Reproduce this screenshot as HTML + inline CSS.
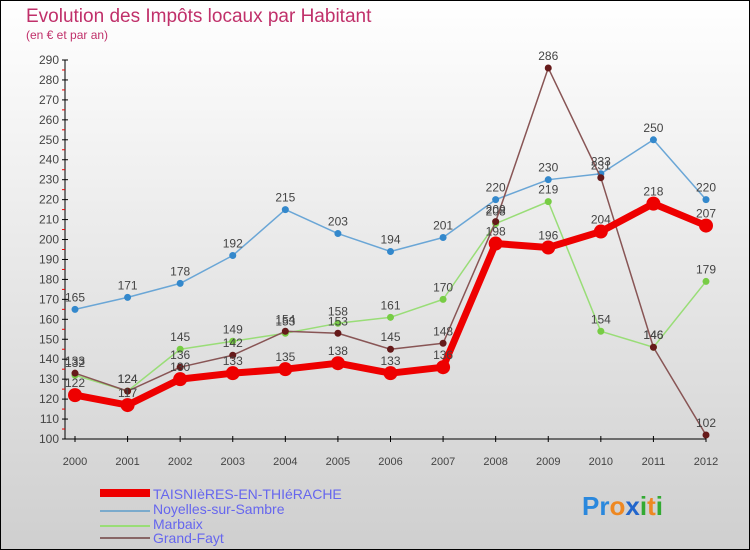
<!DOCTYPE html>
<html><head><meta charset="utf-8"><style>
body{margin:0}
#c{width:750px;height:550px;position:relative;overflow:hidden;font-family:"Liberation Sans",sans-serif}
</style></head><body>
<div id="c">
<svg id="s" width="750" height="550" xmlns="http://www.w3.org/2000/svg">
<defs><linearGradient id="bg" x1="0" y1="0" x2="0" y2="1"><stop offset="0" stop-color="#ffffff"/><stop offset="1" stop-color="#cfcfcf"/></linearGradient></defs>
<rect x="0.5" y="0.5" width="749" height="549" fill="url(#bg)" stroke="#000"/>
<text x="26" y="22" font-size="19" fill="#c0306a">Evolution des Impôts locaux par Habitant</text>
<text x="26" y="39" font-size="12" fill="#c0306a">(en € et par an)</text>
<g id="axes"></g><g id="series"></g>
<g>
<rect x="100" y="489" width="50" height="8" fill="#e00"/>
<text x="153" y="499" font-size="14" fill="#6666ee">TAISNIèRES-EN-THIéRACHE</text>
<line x1="100" y1="511" x2="150" y2="511" stroke="#7aaacc" stroke-width="2"/>
<text x="153" y="514" font-size="14" fill="#6666ee">Noyelles-sur-Sambre</text>
<line x1="100" y1="526" x2="150" y2="526" stroke="#99dd77" stroke-width="2"/>
<text x="153" y="529" font-size="14" fill="#6666ee">Marbaix</text>
<line x1="100" y1="538" x2="150" y2="538" stroke="#886666" stroke-width="2"/>
<text x="153" y="543" font-size="14" fill="#6666ee">Grand-Fayt</text>
</g>
<text x="582" y="515" font-size="26" font-weight="bold"><tspan fill="#2a88dd">Pr</tspan><tspan fill="#ee8822">o</tspan><tspan fill="#2266cc">x</tspan><tspan fill="#33aa33">i</tspan><tspan fill="#ee8822">t</tspan><tspan fill="#33aa33">i</tspan></text>
</svg></div>
<script>
const years=[2000,2001,2002,2003,2004,2005,2006,2007,2008,2009,2010,2011,2012];
const yTicks=[100,110,120,130,140,150,160,170,180,190,200,210,220,230,240,250,260,270,280,290];
const taisnieres=[122,117,130,133,135,138,133,136,198,196,204,218,207];
const noyelles=[165,171,178,192,215,203,194,201,220,230,233,250,220];
const marbaix=[132,124,145,149,153,158,161,170,208,219,154,146,179];
const grandFayt=[133,124,136,142,154,153,145,148,209,286,231,146,102];
const NS="http://www.w3.org/2000/svg";
const X=i=>75+i*(706-75)/(years.length-1);
const Y=v=>439-(v-100)*(439-60)/190;
function mk(t,a,p){const e=document.createElementNS(NS,t);for(const k in a)e.setAttribute(k,a[k]);p.appendChild(e);return e;}
const ax=document.getElementById('axes');
let e=mk('line',{x1:65,y1:Y(290),x2:65,y2:Y(100),stroke:'#000'},ax);


e=mk('line',{x1:65,y1:439,x2:706,y2:439,stroke:'#000'},ax);


yTicks.forEach(v=>{
 mk('line',{x1:62,y1:Y(v),x2:68,y2:Y(v),stroke:'#000'},ax);
 if(v<290)mk('line',{x1:62,y1:Y(v+5),x2:65,y2:Y(v+5),stroke:'#e00'},ax);
 const t=mk('text',{x:59,y:Y(v)+4,'font-size':12,fill:'#444','text-anchor':'end'},ax);t.textContent=v;
 
 
});
years.forEach((y,i)=>{
 mk('line',{x1:X(i),y1:436,x2:X(i),y2:442,stroke:'#000'},ax);
 const t=mk('text',{x:X(i),y:465,'font-size':11,fill:'#444','text-anchor':'middle'},ax);t.textContent=y;
 
 
});
const sg=document.getElementById('series');
function series(data,color,w,r,dot,name){
 const g=mk('g',{},sg);
 
 
 mk('polyline',{points:data.map((v,i)=>X(i)+','+Y(v)).join(' '),fill:'none',stroke:color,'stroke-width':w,'stroke-linejoin':'round'},g);
 data.forEach((v,i)=>{
  const c=mk('circle',{cx:X(i),cy:Y(v),r:r,fill:dot},g);
  
  
  const t=mk('text',{x:X(i),y:Y(v)-8,'font-size':12,fill:'#444','text-anchor':'middle'},g);t.textContent=v;
  
  
 });
}
series(noyelles,'#6aa6d6',1.5,3.5,'#3388cc','noyelles');
series(marbaix,'#99dd77',1.5,3.5,'#77cc44','marbaix');
series(grandFayt,'#885555',1.5,3.5,'#661a1a','grand-fayt');
series(taisnieres,'#ee0000',7,7,'#ee0000','taisnieres');
</script>
</body></html>
